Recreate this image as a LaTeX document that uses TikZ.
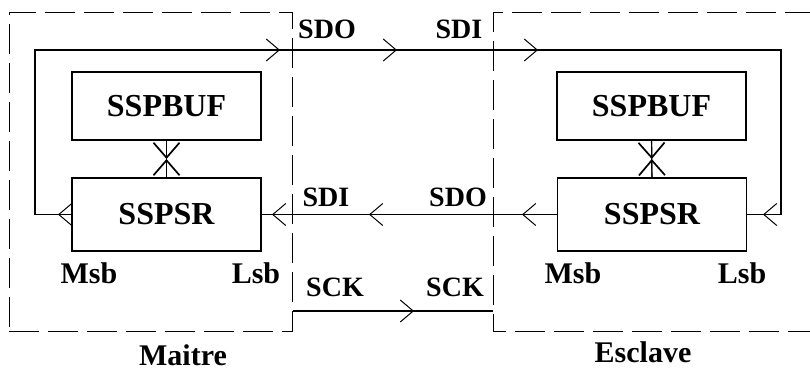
\documentclass[tikz,border=0pt]{standalone}
\usepackage{fontspec}
\setmainfont{Liberation Serif}
\usetikzlibrary{arrows.meta,positioning,calc}

\begin{document}
\begin{tikzpicture}[x=1pt,y=-1pt,line width=1.1pt,
  reg/.style={draw,minimum width=189pt,minimum height=70pt,inner sep=0pt,font=\fontsize{32}{32}\selectfont\bfseries},
  lbl/.style={inner sep=0pt,font=\fontsize{28}{28}\selectfont\bfseries},
  bit/.style={inner sep=0pt,font=\fontsize{30}{30}\selectfont\bfseries},
  zone/.style={draw,line width=1pt,dash pattern=on 30pt off 9pt},
  tip/.style={-{Straight Barb[length=13pt,width=22pt,line width=1pt]}},
  xmark/.style={-{Straight Barb[length=15pt,width=26pt,line width=1.7pt]}}]
\useasboundingbox (0,0) rectangle (810,372);
% zones maitre / esclave
\node[zone,minimum width=283pt,minimum height=319pt] (mzone) at (150.5,171.5) {};
\draw[zone] (815,12) -- (493,12) -- (493,331) -- (815,331);
\coordinate (eedge) at (493,331);
% registres
\node[reg,minimum height=68pt] (mbuf) at (166.5,106) {SSPBUF};
\node[reg,minimum height=73pt] (msr) at (166.5,214.5) {SSPSR};
\node[reg,minimum height=68pt] (ebuf) at (651.5,106) {SSPBUF};
\node[reg,minimum height=73pt] (esr) at (652,214.5) {SSPSR};
% liaisons buffer <-> registre
\foreach \b/\s in {mbuf/msr,ebuf/esr}{
  \draw (\b) -- (\s);
  \draw[xmark] (\b.south) -- ($(\b.south)!0.5!(\s.north)$);
  \draw[xmark] (\s.north) -- ($(\b.south)!0.5!(\s.north)$);
}
% boucle SDO -> SDI
\coordinate (mloop) at (35,50);
\coordinate (eloop) at (781,50);
\draw (msr.west) -- (msr.west -| mloop) -- (mloop) -- (eloop) -- (esr.east -| eloop) -- (esr.east);
\draw (esr.west) -- (msr.east);
% horloge
\coordinate (sck) at (0,311);
\draw (mzone.east |- sck) -- (eedge |- sck);
% pointes
\foreach \x/\y in {280/50,397/50,538/50,414/311}
  \draw[tip] (\x-2,\y) -- (\x,\y);
\foreach \x in {58,272,369,522,763}
  \draw[tip] (\x+2,214.5) -- (\x,214.5);
% textes
\node[lbl] (sdoM) at (327,29) {SDO};
\node[lbl] (sdiE) at (459,29) {SDI};
\node[lbl] (sdiM) at (326,197) {SDI};
\node[lbl] (sdoE) at (458,197) {SDO};
\node[lbl] (sckM) at (335,287) {SCK};
\node[lbl] (sckE) at (455,287) {SCK};
\node[bit] (msbM) at (89,273) {Msb};
\node[bit] (lsbM) at (256,273) {Lsb};
\node[bit] (msbE) at (573,273) {Msb};
\node[bit] (lsbE) at (742,273) {Lsb};
\node[bit] (maitre) at (183,355) {Maitre};
\node[bit] (esclave) at (643,352) {Esclave};
\end{tikzpicture}
\end{document}
